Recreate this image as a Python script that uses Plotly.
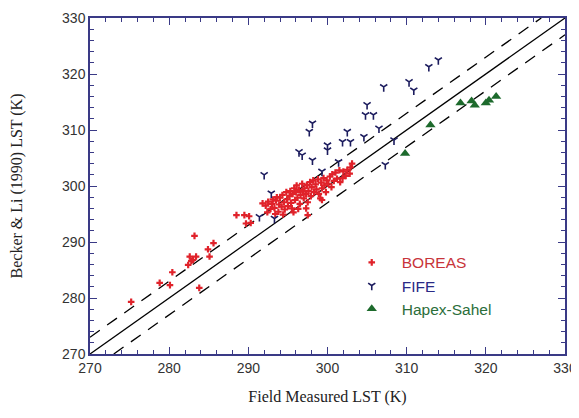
import plotly.graph_objects as go

# ---- data ----
boreas_x = [275.2, 278.8, 280.1, 280.4, 282.4, 282.8, 282.6, 283.4, 283.0, 283.2, 283.8,
            284.9, 285.1, 285.6, 288.5, 289.5, 289.7, 290.1, 290.3,
            291.8, 292.2, 292.5, 292.8, 293.0, 292.4, 293.1,
            293.3, 293.5, 293.6, 293.8, 293.9, 294.0, 293.4,
            294.2, 294.3, 294.5, 294.6, 294.8, 294.9, 294.4, 295.0,
            295.2, 295.3, 295.4, 295.5, 295.6, 295.8, 295.9, 295.7,
            296.0, 296.1, 296.2, 296.4, 296.5, 296.6, 296.8, 296.9, 296.3,
            297.0, 297.1, 297.3, 297.4, 297.5, 297.6, 297.8, 297.9, 297.3, 297.5,
            298.0, 298.2, 298.3, 298.5, 298.6, 298.8, 298.9,
            299.1, 299.2, 299.3, 299.5, 299.6, 299.8, 299.9, 299.3,
            300.1, 300.3, 300.5, 300.6, 300.8, 301.0,
            301.2, 301.5, 301.6, 301.9, 302.0,
            302.3, 302.5, 302.8, 303.1, 302.9]
boreas_y = [279.3, 282.7, 282.3, 284.6, 285.9, 286.6, 287.4, 287.4, 286.8, 291.1, 281.8,
            288.7, 287.4, 289.8, 294.8, 294.8, 293.3, 294.6, 293.4,
            296.9, 296.5, 297.2, 295.9, 296.8, 295.3, 297.6,
            296.1, 297.4, 298.0, 295.4, 296.7, 297.9, 295.0,
            296.3, 298.4, 297.1, 295.8, 298.9, 297.6, 294.9, 296.4,
            298.2, 299.1, 297.0, 296.0, 298.6, 299.6, 297.5, 295.3,
            298.9, 300.1, 297.9, 299.3, 296.8, 298.4, 300.4, 299.0, 295.9,
            297.8, 299.6, 298.6, 300.2, 297.1, 299.1, 300.7, 298.2, 296.0, 294.8,
            299.8, 301.0, 298.9, 300.3, 299.4, 301.2, 298.6,
            297.8, 300.6, 299.6, 301.4, 300.1, 298.9, 301.0, 297.5,
            300.4, 301.7, 299.8, 302.1, 300.9, 302.4,
            301.3, 302.8, 300.7, 301.4, 302.6,
            301.8, 302.9, 302.2, 304.0, 303.3]

fife_x = [291.4, 292.0, 292.9, 293.3, 296.4, 296.8, 298.1, 297.7, 298.1, 300.0, 300.0,
          299.3, 301.4, 301.9, 302.5, 302.9, 304.8, 305.0, 305.8, 304.6, 306.5,
          307.1, 310.3, 310.9, 312.8, 314.0, 307.3, 308.4]
fife_y = [294.5, 302.0, 298.7, 294.2, 306.1, 305.5, 304.6, 309.7, 311.2, 307.3, 306.4,
          302.6, 304.3, 307.9, 309.7, 307.9, 312.7, 314.5, 312.7, 308.8, 310.3,
          317.7, 318.6, 317.1, 321.3, 322.5, 303.8, 308.2]

sahel_x = [309.8, 313.0, 316.8, 318.2, 318.6, 320.0, 320.4, 321.3]
sahel_y = [305.8, 310.9, 314.8, 315.2, 314.4, 314.8, 315.3, 316.0]

one_to_one = [270, 330]
offset = 3

navy = "#3a3a86"

fig = go.Figure()

# 1:1 line and +/-3 K lines
fig.add_trace(go.Scatter(x=one_to_one, y=one_to_one, mode="lines",
                         line=dict(color="black", width=1.3), showlegend=False, hoverinfo="skip"))
fig.add_trace(go.Scatter(x=[one_to_one[0], one_to_one[1] - offset],
                         y=[one_to_one[0] + offset, one_to_one[1]], mode="lines",
                         line=dict(color="black", width=1.3, dash="12px,9px"),
                         showlegend=False, hoverinfo="skip"))
fig.add_trace(go.Scatter(x=[one_to_one[0] + offset, one_to_one[1]],
                         y=[one_to_one[0], one_to_one[1] - offset], mode="lines",
                         line=dict(color="black", width=1.3, dash="12px,9px"),
                         showlegend=False, hoverinfo="skip"))

fig.add_trace(go.Scatter(x=boreas_x, y=boreas_y, mode="markers",
                         name="<span style='color:#c8343a'>BOREAS</span>",
                         marker=dict(symbol="cross", size=5.5, color="#e0222a")))
fig.add_trace(go.Scatter(x=fife_x, y=fife_y, mode="markers",
                         name="<span style='color:#2a2a86'>FIFE</span>",
                         marker=dict(symbol="y-down-open", size=6, color="#1c1c5e",
                                     line=dict(color="#1c1c5e", width=1.6))))
fig.add_trace(go.Scatter(x=sahel_x, y=sahel_y, mode="markers",
                         name="<span style='color:#2b6e3a'>Hapex-Sahel</span>",
                         marker=dict(symbol="triangle-up", size=9, color="#1d6a2c")))

axis_common = dict(
    range=[270, 330], tick0=270, dtick=10, ticks="inside", ticklen=7, tickwidth=1.3,
    tickcolor=navy, showline=True, linecolor=navy, linewidth=1.5, mirror="ticks",
    showgrid=False, zeroline=False, automargin=False,
    minor=dict(tick0=270, dtick=2, ticks="inside", ticklen=4, tickcolor=navy, tickwidth=1.2,
               showgrid=False),
    tickfont=dict(family="Liberation Sans, Arial", size=14, color="#333333"),
)

# the page body has an 8px margin, so the figure is sized to fit the 579x418 window
fig.update_layout(
    width=571, height=402,
    margin=dict(l=82, r=14, t=10, b=56),
    paper_bgcolor="white", plot_bgcolor="white",
    xaxis=dict(**axis_common,
               title=dict(text="Field Measured LST (K)", standoff=16,
                          font=dict(family="Liberation Serif, Times New Roman", size=16, color="#222222"))),
    yaxis=dict(**axis_common,
               title=dict(text="Becker &amp; Li (1990) LST (K)", standoff=35,
                          font=dict(family="Liberation Serif, Times New Roman", size=16, color="#222222"))),
    legend=dict(x=0.53, y=0.322, xanchor="left", yanchor="top", bgcolor="rgba(0,0,0,0)",
                itemwidth=50, tracegroupgap=0,
                font=dict(family="Liberation Sans, Arial", size=15.5)),
    showlegend=True,
)

fig.write_html("out.html")
